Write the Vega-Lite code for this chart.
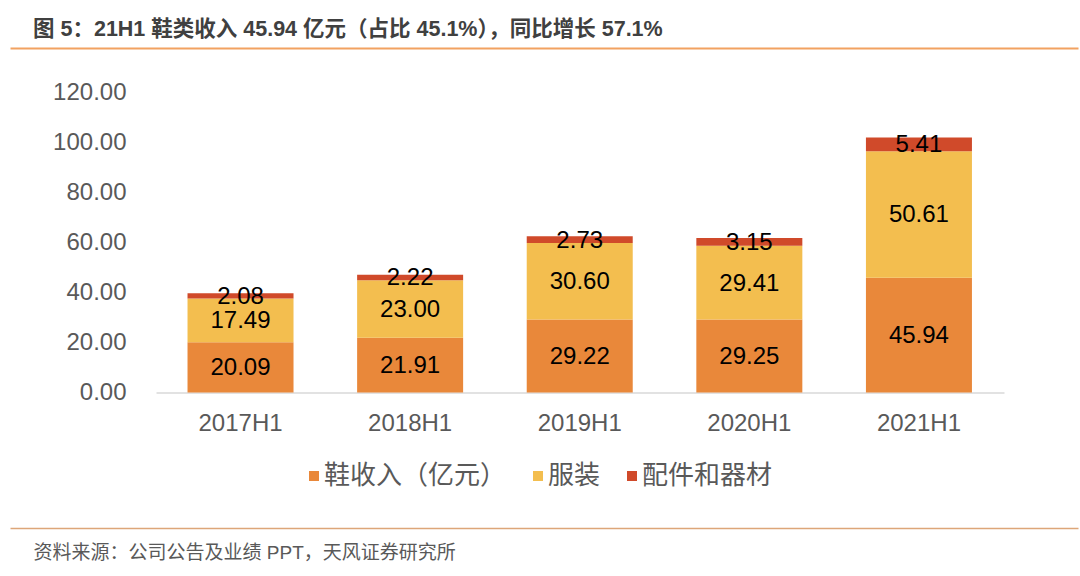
{
  "$schema": "https://vega.github.io/schema/vega-lite/v6.json",
  "width": 1068,
  "height": 479.5,
  "autosize": {"type": "none"},
  "padding": {"left": 10, "top": 48, "right": 2, "bottom": 48.5},
  "background": "white",
  "config": {
    "view": {"stroke": null},
    "font": "Liberation Sans, Noto Sans CJK SC",
    "text": {"font": "Liberation Sans, Noto Sans CJK SC"}
  },
  "title": {
    "text": "图 5：21H1 鞋类收入 45.94 亿元（占比 45.1%），同比增长 57.1%",
    "anchor": "start",
    "frame": "group",
    "dx": 23,
    "offset": 8,
    "fontSize": 21.5,
    "fontWeight": "bold",
    "color": "#404040",
    "font": "Liberation Sans, Noto Sans CJK SC"
  },
  "data": {
    "values": [
      {"period": "2017H1", "cat": "鞋收入（亿元）", "i": 1, "v": 20.09},
      {"period": "2017H1", "cat": "服装", "i": 2, "v": 17.49},
      {"period": "2017H1", "cat": "配件和器材", "i": 3, "v": 2.08},
      {"period": "2018H1", "cat": "鞋收入（亿元）", "i": 1, "v": 21.91},
      {"period": "2018H1", "cat": "服装", "i": 2, "v": 23.00},
      {"period": "2018H1", "cat": "配件和器材", "i": 3, "v": 2.22},
      {"period": "2019H1", "cat": "鞋收入（亿元）", "i": 1, "v": 29.22},
      {"period": "2019H1", "cat": "服装", "i": 2, "v": 30.60},
      {"period": "2019H1", "cat": "配件和器材", "i": 3, "v": 2.73},
      {"period": "2020H1", "cat": "鞋收入（亿元）", "i": 1, "v": 29.25},
      {"period": "2020H1", "cat": "服装", "i": 2, "v": 29.41},
      {"period": "2020H1", "cat": "配件和器材", "i": 3, "v": 3.15},
      {"period": "2021H1", "cat": "鞋收入（亿元）", "i": 1, "v": 45.94},
      {"period": "2021H1", "cat": "服装", "i": 2, "v": 50.61},
      {"period": "2021H1", "cat": "配件和器材", "i": 3, "v": 5.41}
    ]
  },
  "transform": [
    {"stack": "v", "groupby": ["period"], "sort": [{"field": "i", "order": "ascending"}], "offset": "zero", "as": ["y0", "y1"]}
  ],
  "layer": [
    {
      "mark": {"type": "bar"},
      "encoding": {
        "x": {
          "field": "period",
          "type": "nominal",
          "sort": null,
          "scale": {"paddingInner": 0.375, "paddingOuter": 0.836, "align": 0.626},
          "axis": {
            "orient": "bottom",
            "offset": -135,
            "labelAngle": 0,
            "labelFontSize": 24,
            "labelColor": "#595959",
            "labelPadding": 19,
            "ticks": false,
            "domain": true,
            "domainColor": "#D9D9D9",
            "domainWidth": 1.5,
            "domainDash": [0, 146, 848, 300],
            "title": "资料来源：公司公告及业绩 PPT，天风证券研究所",
            "titleX": 23,
            "titleY": 159.5,
            "titleAlign": "left",
            "titleAnchor": "start",
            "titleBaseline": "middle",
            "titleFontSize": 19,
            "titleFontWeight": "normal",
            "titleColor": "#595959",
            "titleFont": "Liberation Sans, Noto Sans CJK SC"
          }
        },
        "y": {
          "field": "y0",
          "type": "quantitative",
          "scale": {"domain": [-54, 137.8], "nice": false, "zero": false},
          "axis": {
            "orient": "left",
            "offset": -146,
            "values": [0, 20, 40, 60, 80, 100, 120],
            "format": ".2f",
            "labelFontSize": 24,
            "labelColor": "#595959",
            "labelPadding": 30,
            "domain": false,
            "ticks": false,
            "grid": false,
            "title": null
          }
        },
        "y2": {"field": "y1"},
        "color": {
          "field": "cat",
          "type": "nominal",
          "scale": {
            "domain": ["鞋收入（亿元）", "服装", "配件和器材"],
            "range": ["#E9883A", "#F3BE4F", "#D04A2A"]
          },
          "legend": {
            "orient": "none",
            "direction": "horizontal",
            "legendX": 291,
            "legendY": 415,
            "title": null,
            "padding": 0,
            "symbolType": "square",
            "symbolSize": 100,
            "symbolStrokeWidth": 0,
            "labelFontSize": 26,
            "labelColor": "#595959",
            "labelFont": "Noto Sans CJK SC",
            "labelOffset": -3,
            "columnPadding": 18,
            "labelLimit": 400
          }
        }
      }
    },
    {
      "transform": [{"fold": ["y0", "y1"], "as": ["k", "pos"]}],
      "mark": {"type": "text", "fontSize": 24, "color": "#000000", "baseline": "middle", "dy": 1},
      "encoding": {
        "x": {"field": "period", "type": "nominal", "sort": null},
        "y": {
          "aggregate": "mean",
          "field": "pos",
          "type": "quantitative",
          "stack": null,
          "axis": {
            "orient": "right",
            "values": [137.8, -54],
            "labels": false,
            "ticks": false,
            "domain": false,
            "grid": true,
            "gridWidth": {"condition": {"test": "datum.value > 0", "value": 2}, "value": 1.5},
            "gridColor": {"condition": {"test": "datum.value > 0", "value": "#F2A261"}, "value": "#DDA679"},
            "title": null
          }
        },
        "detail": {"field": "cat", "type": "nominal"},
        "text": {"field": "v", "type": "quantitative", "format": ".2f"}
      }
    }
  ],
  "resolve": {"axis": {"y": "independent"}}
}
